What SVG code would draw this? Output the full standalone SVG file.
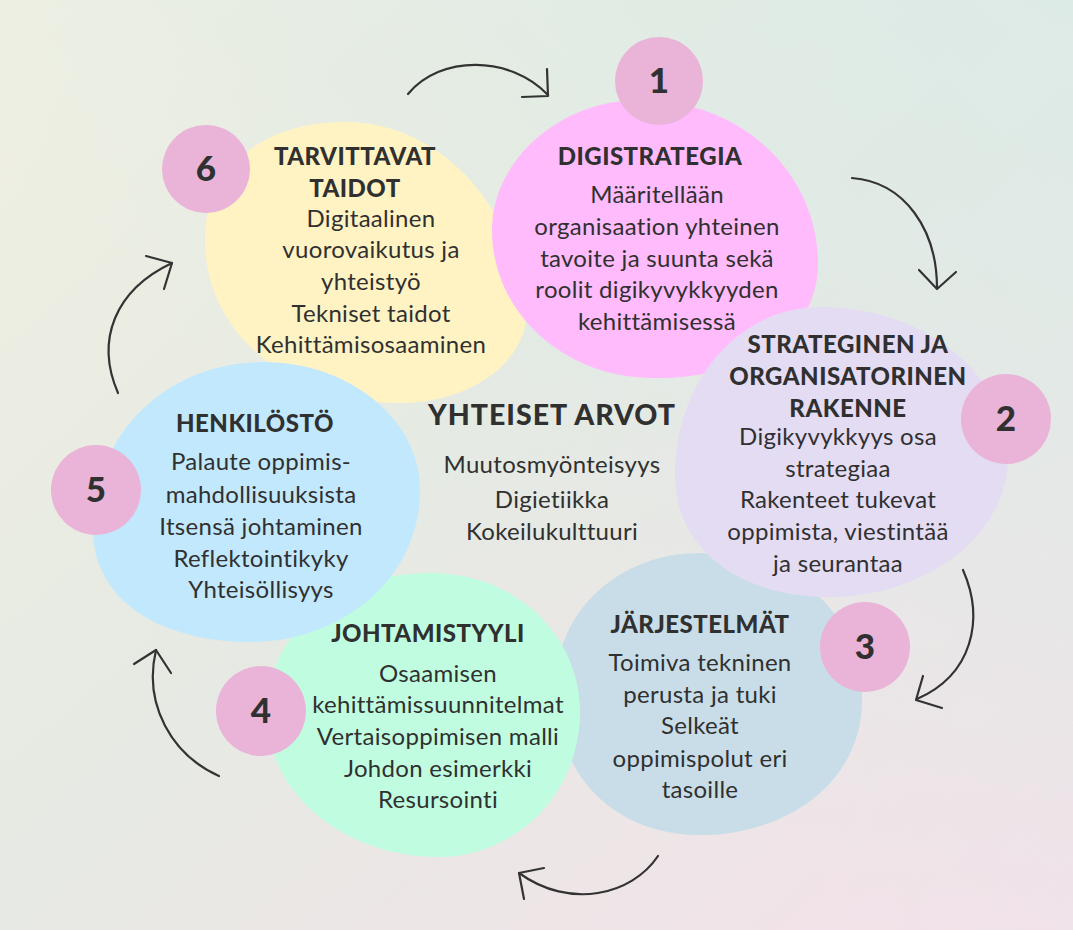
<svg xmlns="http://www.w3.org/2000/svg" width="1073" height="930" viewBox="0 0 1073 930">
<defs>
<linearGradient id="bg" x1="0" y1="0" x2="1" y2="1">
<stop offset="0" stop-color="#f0f0e2"/>
<stop offset="0.45" stop-color="#e6eae3"/>
<stop offset="1" stop-color="#f4e1ea"/>
</linearGradient>
<linearGradient id="bg2" x1="1" y1="0" x2="0.4" y2="0.6">
<stop offset="0" stop-color="#dcebe6" stop-opacity="0.9"/>
<stop offset="1" stop-color="#dcebe6" stop-opacity="0"/>
</linearGradient>
<style>
.h{font-family:Lato,"Liberation Sans",sans-serif;font-weight:900;font-size:24px;letter-spacing:0.5px;fill:#303030;text-anchor:middle}
.b{font-family:Lato,"Liberation Sans",sans-serif;font-weight:400;font-size:24px;letter-spacing:0.3px;fill:#303030;text-anchor:middle}
.n{font-family:Lato,"Liberation Sans",sans-serif;font-weight:900;font-size:35px;fill:#303030;text-anchor:middle}
.c{fill:#e9b4d8}
.a{fill:none;stroke:#333;stroke-width:2.2;stroke-linecap:round;stroke-linejoin:round}
</style>
</defs>
<rect width="1073" height="930" fill="url(#bg)"/>
<rect width="1073" height="930" fill="url(#bg2)"/>

<g id="node6">
<path d="M337,122 C420,118 500,180 525,290 C540,360 470,403 400,403 C300,405 205,340 205,240 C205,170 260,125 337,122 Z" fill="#fff3c4"/>
</g>
<g id="node1">
<path d="M640,100 C740,100 815,170 818,260 C820,340 740,380 650,378 C560,376 492,310 492,230 C492,160 560,100 640,100 Z" fill="#ffbbfb"/>
</g>
<g id="node3">
<path d="M700,553 C790,553 862,610 862,700 C862,780 790,835 700,835 C610,835 555,770 555,690 C555,610 620,553 700,553 Z" fill="#c8dde8"/>
</g>
<g id="node2">
<path d="M820,307 C930,307 1010,380 1008,460 C1006,540 920,597 830,597 C740,597 675,550 675,475 C675,380 740,307 820,307 Z" fill="#e4dcf3"/>
</g>
<g id="node4">
<path d="M430,573 C520,573 582,640 580,715 C578,800 510,857 440,857 C340,857 267,790 267,715 C267,630 340,573 430,573 Z" fill="#c0fde0"/>
</g>
<g id="node5">
<path d="M263,362 C350,362 420,420 420,490 C420,580 340,642 250,642 C160,642 93,600 93,530 C93,430 170,362 263,362 Z" fill="#c2e8fd"/>
</g>

<g id="node6-text">
<circle class="c" cx="206" cy="169" r="44"/>
<text class="n" x="206" y="181">6</text>
<text class="h" x="355" y="165">TARVITTAVAT</text>
<text class="h" x="355" y="197">TAIDOT</text>
<text class="b" x="371" y="227">Digitaalinen</text>
<text class="b" x="371" y="258">vuorovaikutus ja</text>
<text class="b" x="371" y="290">yhteistyö</text>
<text class="b" x="371" y="322">Tekniset taidot</text>
<text class="b" x="371" y="353">Kehittämisosaaminen</text>
</g>
<g id="node1-text">
<circle class="c" cx="659" cy="81" r="44"/>
<text class="n" x="659" y="93">1</text>
<text class="h" x="650" y="165">DIGISTRATEGIA</text>
<text class="b" x="657" y="203">Määritellään</text>
<text class="b" x="657" y="235">organisaation yhteinen</text>
<text class="b" x="657" y="267">tavoite ja suunta sekä</text>
<text class="b" x="657" y="298">roolit digikyvykkyyden</text>
<text class="b" x="657" y="330">kehittämisessä</text>
</g>
<g id="node2-text">
<circle class="c" cx="1006" cy="419" r="45"/>
<text class="n" x="1006" y="431">2</text>
<text class="h" x="848" y="353">STRATEGINEN JA</text>
<text class="h" x="848" y="385">ORGANISATORINEN</text>
<text class="h" x="848" y="417">RAKENNE</text>
<text class="b" x="838" y="445">Digikyvykkyys osa</text>
<text class="b" x="838" y="477">strategiaa</text>
<text class="b" x="838" y="508">Rakenteet tukevat</text>
<text class="b" x="838" y="540">oppimista, viestintää</text>
<text class="b" x="838" y="572">ja seurantaa</text>
</g>
<g id="node3-text">
<circle class="c" cx="865" cy="647" r="45"/>
<text class="n" x="865" y="659">3</text>
<text class="h" x="700" y="633">JÄRJESTELMÄT</text>
<text class="b" x="700" y="671">Toimiva tekninen</text>
<text class="b" x="700" y="703">perusta ja tuki</text>
<text class="b" x="700" y="734">Selkeät</text>
<text class="b" x="700" y="767">oppimispolut eri</text>
<text class="b" x="700" y="798">tasoille</text>
</g>
<g id="node4-text">
<circle class="c" cx="261" cy="711" r="45"/>
<text class="n" x="261" y="723">4</text>
<text class="h" x="428" y="642">JOHTAMISTYYLI</text>
<text class="b" x="438" y="682">Osaamisen</text>
<text class="b" x="438" y="713">kehittämissuunnitelmat</text>
<text class="b" x="438" y="745">Vertaisoppimisen malli</text>
<text class="b" x="438" y="777">Johdon esimerkki</text>
<text class="b" x="438" y="808">Resursointi</text>
</g>
<g id="node5-text">
<circle class="c" cx="96" cy="490" r="45"/>
<text class="n" x="96" y="502">5</text>
<text class="h" x="255" y="432">HENKILÖSTÖ</text>
<text class="b" x="261" y="470">Palaute oppimis-</text>
<text class="b" x="261" y="503">mahdollisuuksista</text>
<text class="b" x="261" y="535">Itsensä johtaminen</text>
<text class="b" x="261" y="567">Reflektointikyky</text>
<text class="b" x="261" y="598">Yhteisöllisyys</text>
</g>
<g id="center">
<text class="h" x="552" y="425" style="font-size:28.5px;letter-spacing:1px">YHTEISET ARVOT</text>
<text class="b" x="552" y="473">Muutosmyönteisyys</text>
<text class="b" x="552" y="508">Digietiikka</text>
<text class="b" x="552" y="540">Kokeilukulttuuri</text>
</g>

<g id="connectors">
<path class="a" d="M408,94 C440,55 510,55 548,95"/>
<path class="a" d="M522,97 L548,96 L547,69"/>
<path class="a" d="M852,178 C905,182 937,230 937,288"/>
<path class="a" d="M919,270 L937,289 L956,272"/>
<path class="a" d="M963,570 C985,620 972,675 917,699"/>
<path class="a" d="M923,676 L916,700 L942,708"/>
<path class="a" d="M658,856 C632,895 570,910 519,873"/>
<path class="a" d="M544,868 L519,873 L524,899"/>
<path class="a" d="M219,776 C172,755 143,705 156,650"/>
<path class="a" d="M134,664 L156,650 L171,673"/>
<path class="a" d="M118,393 C95,340 115,290 172,263"/>
<path class="a" d="M146,256 L172,263 L164,289"/>
</g>
</svg>
